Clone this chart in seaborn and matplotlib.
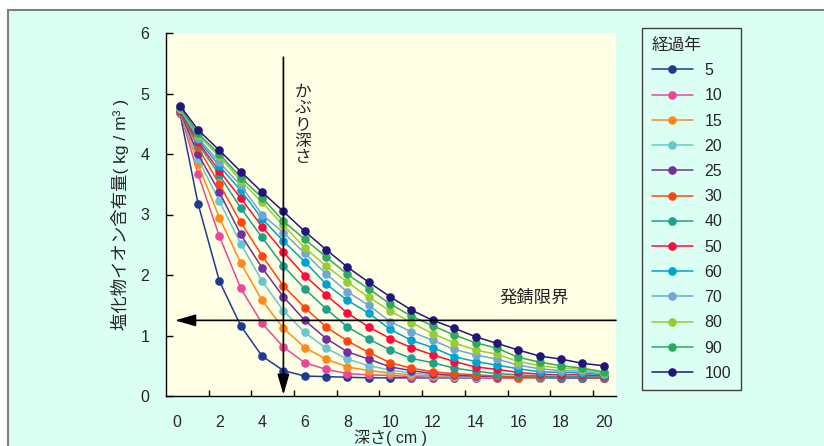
import numpy as np
import pandas as pd
import matplotlib
matplotlib.use("Agg")
import matplotlib.pyplot as plt
import seaborn as sns
from matplotlib.patches import Rectangle

# ---------------- data ----------------
depth = [0.65, 1.5, 2.5, 3.5, 4.5, 5.5, 6.5, 7.5, 8.5, 9.5, 10.5,
         11.5, 12.5, 13.5, 14.5, 15.5, 16.5, 17.5, 18.5, 19.5, 20.5]

years = ["5", "10", "15", "20", "25", "30", "40", "50", "60", "70", "80", "90", "100"]

y5 = [4.68, 3.18, 1.90, 1.16, 0.66, 0.42, 0.33, 0.32, 0.31, 0.30, 0.30, 0.30, 0.30, 0.30, 0.30, 0.30, 0.30, 0.30, 0.30, 0.30, 0.30]
y10 = [4.70, 3.67, 2.64, 1.78, 1.20, 0.81, 0.55, 0.44, 0.37, 0.35, 0.34, 0.32, 0.31, 0.31, 0.30, 0.30, 0.30, 0.30, 0.30, 0.30, 0.30]
y15 = [4.70, 3.83, 2.95, 2.20, 1.58, 1.12, 0.80, 0.61, 0.48, 0.42, 0.38, 0.35, 0.33, 0.32, 0.31, 0.31, 0.30, 0.30, 0.30, 0.30, 0.30]
y20 = [4.71, 3.92, 3.22, 2.52, 1.90, 1.41, 1.05, 0.79, 0.61, 0.50, 0.43, 0.38, 0.35, 0.33, 0.32, 0.31, 0.31, 0.30, 0.30, 0.30, 0.30]
y25 = [4.71, 4.00, 3.37, 2.67, 2.12, 1.64, 1.25, 0.95, 0.73, 0.61, 0.48, 0.42, 0.37, 0.34, 0.33, 0.32, 0.31, 0.31, 0.30, 0.30, 0.30]
y30 = [4.72, 4.11, 3.50, 2.87, 2.32, 1.82, 1.46, 1.14, 0.91, 0.72, 0.55, 0.46, 0.40, 0.37, 0.35, 0.33, 0.32, 0.31, 0.31, 0.31, 0.30]
y40 = [4.72, 4.17, 3.65, 3.11, 2.62, 2.15, 1.77, 1.44, 1.14, 0.94, 0.76, 0.62, 0.55, 0.46, 0.41, 0.37, 0.35, 0.33, 0.32, 0.32, 0.31]
y50 = [4.73, 4.20, 3.72, 3.27, 2.80, 2.38, 1.99, 1.67, 1.37, 1.14, 0.95, 0.80, 0.68, 0.57, 0.48, 0.44, 0.39, 0.36, 0.35, 0.35, 0.33]
y60 = [4.74, 4.24, 3.80, 3.40, 2.93, 2.56, 2.22, 1.85, 1.58, 1.37, 1.10, 0.92, 0.80, 0.65, 0.57, 0.51, 0.45, 0.40, 0.39, 0.38, 0.35]
y70 = [4.75, 4.27, 3.86, 3.48, 3.00, 2.70, 2.36, 2.02, 1.72, 1.50, 1.23, 1.06, 0.92, 0.77, 0.68, 0.61, 0.51, 0.45, 0.42, 0.41, 0.36]
y80 = [4.76, 4.31, 3.96, 3.56, 3.20, 2.82, 2.45, 2.15, 1.88, 1.63, 1.41, 1.21, 1.03, 0.88, 0.76, 0.69, 0.57, 0.50, 0.46, 0.44, 0.38]
y90 = [4.77, 4.34, 4.00, 3.61, 3.28, 2.89, 2.59, 2.30, 2.01, 1.77, 1.52, 1.32, 1.16, 1.01, 0.88, 0.79, 0.64, 0.56, 0.50, 0.46, 0.40]
y100 = [4.80, 4.40, 4.06, 3.71, 3.37, 3.05, 2.72, 2.42, 2.13, 1.88, 1.64, 1.42, 1.25, 1.12, 0.98, 0.87, 0.76, 0.66, 0.61, 0.54, 0.50]

series = [y5, y10, y15, y20, y25, y30, y40, y50, y60, y70, y80, y90, y100]

colors = ["#1f3a93", "#e8489a", "#ff8a1c", "#66c7cf", "#7030a0", "#ff4510",
          "#1fa08c", "#ff0a3c", "#00a2d0", "#6fa6d6", "#99cc33", "#2eaa5c", "#22157e"]

xticks = [0, 2, 4, 6, 8, 10, 12, 14, 16, 18, 20]
yticks = [0, 1, 2, 3, 4, 5, 6]

cover_depth = 5.5
rust_limit = 1.25

# ---------------- style ----------------
sns.set_style("white")
plt.rcParams['font.family'] = ['Liberation Sans', 'Noto Sans CJK JP']

mint = "#dcfff4"
W, H = 824, 446
fig = plt.figure(figsize=(W / 100, H / 100), dpi=100, facecolor="white")
fig.patches.append(Rectangle((8 / W, -0.01), 1.0, 1 - 10 / H + 0.01,
                             transform=fig.transFigure, facecolor=mint,
                             edgecolor="#7f7f7f", lw=1.5, zorder=-10))

ax = fig.add_axes([166 / W, 1 - 396 / H, 450 / W, 363 / H])
ax.set_facecolor("#ffffe6")

rows = []
for name, vals in zip(years, series):
    for d, v in zip(depth, vals):
        rows.append((d, v, name))
df = pd.DataFrame(rows, columns=["depth", "value", "year"])

sns.lineplot(data=df, x="depth", y="value", hue="year", hue_order=years,
             palette=colors, marker="o", markersize=6.2, markeredgewidth=0,
             linewidth=1.1, estimator=None, sort=False, ax=ax, legend=True)

ax.set_xlim(0, 21.08)
ax.set_ylim(0, 6)

# tick labels (offset slightly right of the tick marks as in the original)
ax.set_xticks([t + 0.5 for t in xticks], labels=[str(t) for t in xticks])
ax.set_xticks(xticks[1:], minor=True)
ax.tick_params(axis="x", which="major", length=0, pad=14, labelsize=11.5)
ax.tick_params(axis="x", which="minor", direction="in", length=4, width=1, color="black", bottom=True)

ax.set_yticks(yticks, labels=[str(t) for t in yticks])
ax.tick_params(axis="y", which="major", direction="in", length=5, width=1, color="black",
               pad=12, labelsize=11.5, left=True)

for s in ["top", "right"]:
    ax.spines[s].set_visible(False)
for s in ["left", "bottom"]:
    ax.spines[s].set_color("black")
    ax.spines[s].set_linewidth(1.0)

ax.set_xlabel("深さ( cm )", fontsize=11.5, labelpad=-1)
ax.set_ylabel("塩化物イオン含有量( kg / m³ )", fontsize=12.5, labelpad=8)

# annotations
arrow = dict(arrowstyle="-|>,head_length=0.9,head_width=0.26", color="black",
             lw=1.2, mutation_scale=14, shrinkA=0, shrinkB=0)
ax.annotate("", xy=(cover_depth, 0.02), xytext=(cover_depth, 5.6), arrowprops=arrow)
ax.annotate("", xy=(0.42, rust_limit), xytext=(21.08, rust_limit), arrowprops=arrow)
ax.text(6.42, 5.14, "\n".join("かぶり深さ"), ha="center", va="top", fontsize=12,
        linespacing=1.1)
ax.text(17.24, 1.62, "発錆限界", ha="center", va="center", fontsize=12.5)

# legend
handles, labels = ax.get_legend_handles_labels()
ax.get_legend().remove()
leg = fig.legend(handles, labels, title="経過年", loc="upper left",
                 bbox_to_anchor=(642 / W, 1 - 28 / H), frameon=True, fancybox=False,
                 edgecolor="#404040", facecolor=mint, framealpha=1,
                 fontsize=11.5, title_fontsize=12, labelspacing=0.64,
                 handlelength=2.6, handletextpad=0.7, borderpad=0.6,
                 alignment="left", borderaxespad=0)
leg.get_frame().set_linewidth(1.0)

fig.savefig("out.png", dpi=100, facecolor="white")
